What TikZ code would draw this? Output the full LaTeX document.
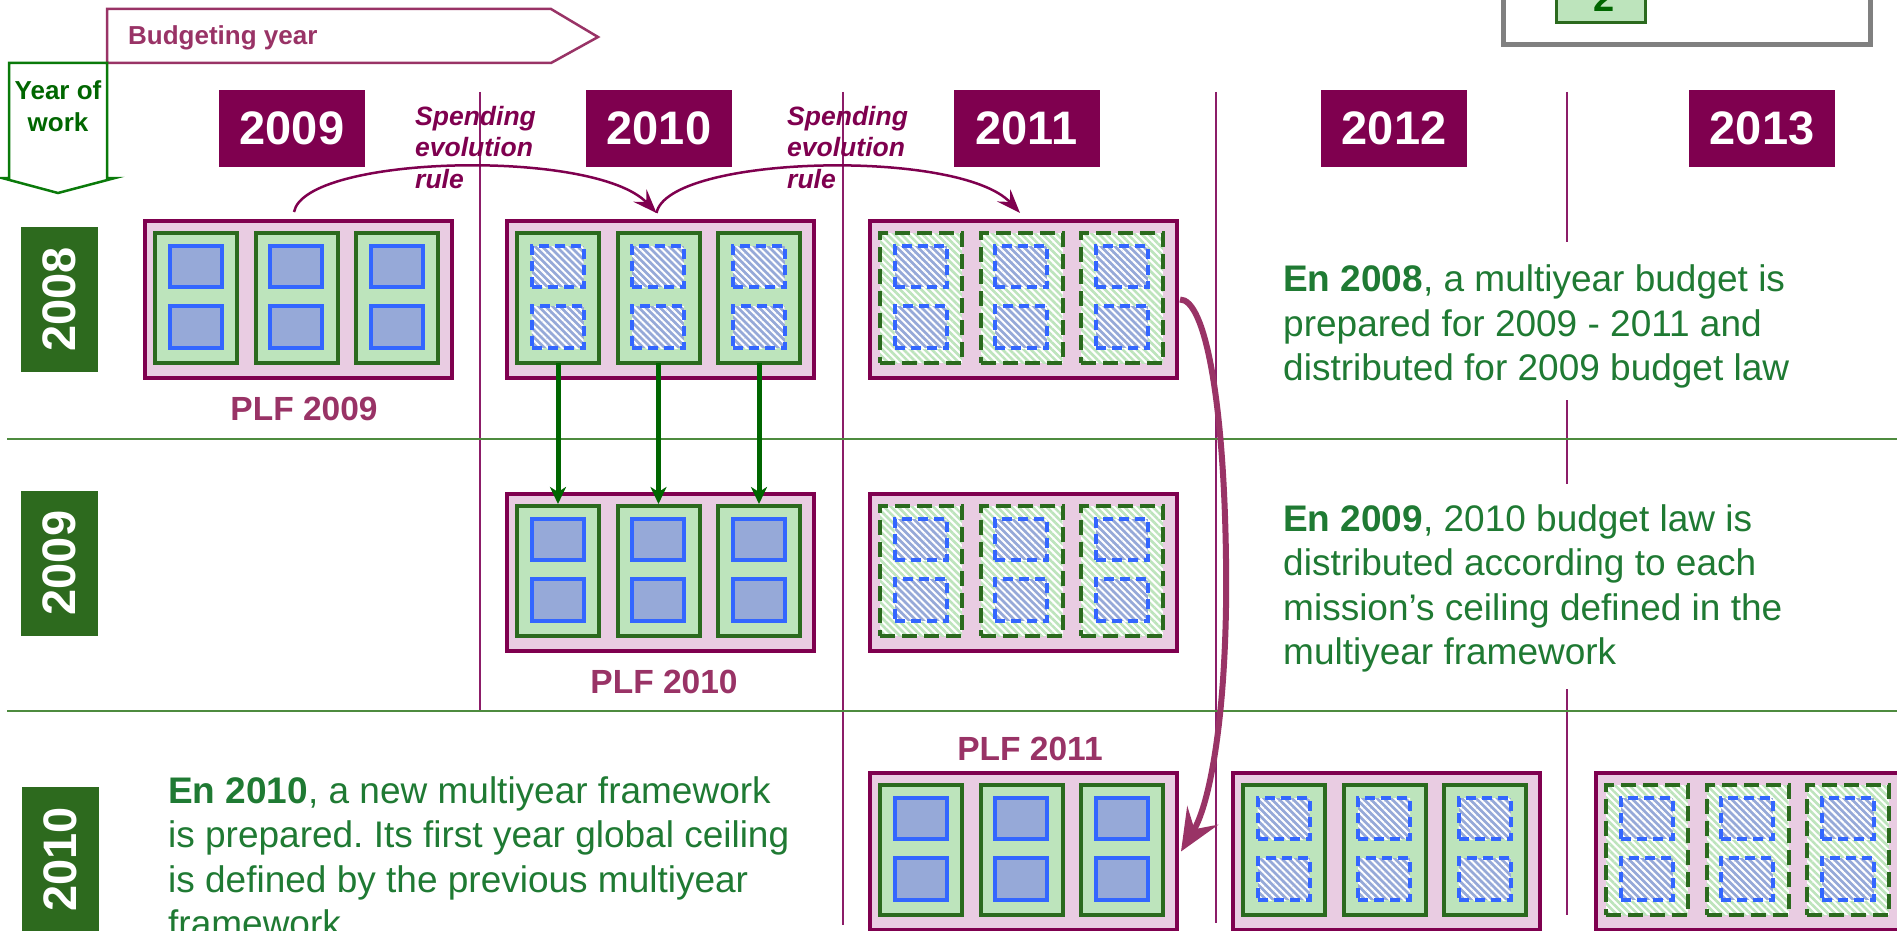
\documentclass[tikz,border=0pt]{standalone}
\usepackage{fontspec}
\setmainfont{Liberation Sans}
\usetikzlibrary{arrows.meta,patterns.meta}
\definecolor{plum}{HTML}{7F004F}
\definecolor{magtext}{HTML}{993366}
\definecolor{pinkbg}{HTML}{E9CCE2}
\definecolor{gdark}{HTML}{2B6A1E}
\definecolor{glight}{HTML}{BDE4BC}
\definecolor{bblue}{HTML}{3366FF}
\definecolor{bfill}{HTML}{96A9D8}
\definecolor{labgreen}{HTML}{2D6A1E}
\definecolor{txtgreen}{HTML}{1F7A33}
\definecolor{ywgreen}{HTML}{006600}
\definecolor{ywline}{HTML}{0A7A0A}
\definecolor{arrgreen}{HTML}{006600}
\definecolor{hlinec}{HTML}{4E8B3F}
\definecolor{vlinec}{HTML}{8C1D68}
\definecolor{leggray}{HTML}{808080}
\tikzset{
  outerbox/.style={draw=plum, fill=pinkbg, line width=4pt, minimum width=307pt, minimum height=157pt, inner sep=0pt, outer sep=0pt},
  gsolid/.style={draw=gdark, fill=glight, line width=4pt, minimum width=82pt, minimum height=130pt, inner sep=0pt, outer sep=0pt},
  ghatch/.style={draw=gdark, line width=4pt, dash pattern=on 15pt off 7pt, preaction={fill=white}, pattern={Lines[angle=-45,distance=5pt,line width=2.6pt]}, pattern color=glight, minimum width=82pt, minimum height=130pt, inner sep=0pt, outer sep=0pt},
  bsolid/.style={draw=bblue, fill=bfill, line width=4pt, minimum width=52pt, inner sep=0pt, outer sep=0pt},
  bhatch/.style={draw=bblue, line width=4pt, dash pattern=on 10pt off 6pt, preaction={fill=bfill}, pattern={Lines[angle=-45,distance=5pt,line width=2pt]}, pattern color=white, minimum width=52pt, inner sep=0pt, outer sep=0pt},
  yearhead/.style={fill=plum, text=white, font=\fontsize{47}{56}\selectfont\bfseries, minimum width=146pt, minimum height=77pt, inner sep=0pt},
  rowlab/.style={fill=labgreen, text=white, rotate=90, font=\fontsize{47}{56}\selectfont\bfseries, minimum width=145pt, minimum height=77pt, inner sep=0pt},
  spend/.style={font=\fontsize{26.5}{31.5}\selectfont\bfseries\itshape, text=plum, align=left, inner sep=0pt, anchor=north west},
  desc/.style={font=\fontsize{37}{44.5}\selectfont, text=txtgreen, align=left, inner sep=0pt, anchor=north west},
  plf/.style={font=\fontsize{33.5}{40}\selectfont\bfseries, text=magtext, anchor=base, inner sep=0pt},
  vline/.style={draw=vlinec, line width=2pt},
  hline/.style={draw=hlinec, line width=2.2pt},
  garrow/.style={draw=arrgreen, line width=5pt, -{Stealth[length=17pt,width=16pt,inset=5pt]}, shorten >=2pt},
  sparrow/.style={draw=plum, line width=2.5pt, -{Stealth[length=24pt,width=18pt,inset=9pt]}},
  bigarrow/.style={draw=magtext, line width=6pt, -{Stealth[length=42pt,width=36pt,inset=16pt]}},
}
\newcommand\mkpanel[5]{%
  \node[outerbox] (#1) at ({#2+155.5},{#3+80.5}) {};
  \foreach \i in {1,2,3}{%
    \node[#4] (#1-g\i) at ({#2+53+100.5*(\i-1)},{#3+79}) {};
    \node[#5, minimum height=41pt] (#1-b\i-a) at ({#2+52.5+100.5*(\i-1)},{#3+47.5}) {};
    \node[#5, minimum height=42pt] (#1-b\i-b) at ({#2+52.5+100.5*(\i-1)},{#3+108}) {};
  }%
}
\frenchspacing
\begin{document}
\begin{tikzpicture}[x=1pt,y=-1pt]
\clip (0,0) rectangle (1897,931);
\fill[white] (0,0) rectangle (1897,931);

% legend frame (top right, cut off)
\draw[draw=leggray, line width=5pt, fill=white] (1503.5,-30) rectangle (1870,44.5);
\node[draw=gdark, fill=glight, line width=3pt, minimum width=89pt, minimum height=60pt, anchor=south, inner sep=0pt] (legbox) at (1600.5,24.5) {};
\node[anchor=base, font=\fontsize{38}{44}\selectfont\bfseries, text=ywgreen, inner sep=0pt] (legtext) at (1604,12) {2};

% grid lines
\draw[vline] (480,92) -- (480,711);
\draw[vline] (843,92) -- (843,925);
\draw[vline] (1216,92) -- (1216,923);
\draw[vline] (1567,92) -- (1567,242);
\draw[vline] (1567,400) -- (1567,484);
\draw[vline] (1567,689) -- (1567,915);
\draw[hline] (7,439) -- (1897,439);
\draw[hline] (7,711) -- (1897,711);

% axis arrows
\draw[draw=magtext, line width=2.5pt, line join=miter] (107,9) -- (551,9) -- (598,37) -- (551,63) -- (107,63) -- cycle;
\node[anchor=base west, font=\fontsize{26}{31}\selectfont\bfseries, text=magtext, inner sep=0pt] (budget) at (128,45) {Budgeting year};
\draw[draw=ywline, line width=2.5pt, line join=miter] (9,63) -- (107,63) -- (107,178) -- (115,178) -- (58,193) -- (2,178) -- (9,178) -- cycle;
\node[align=center, font=\fontsize{26}{32}\selectfont\bfseries, text=ywgreen, inner sep=0pt] (yearwork) at (58,106) {Year of\\work};

% year headers
\node[yearhead] (h2009) at (292,128.5) {2009};
\node[yearhead] (h2010) at (659,128.5) {2010};
\node[yearhead] (h2011) at (1026.5,128.5) {2011};
\node[yearhead] (h2012) at (1394,128.5) {2012};
\node[yearhead] (h2013) at (1762,128.5) {2013};

% row labels
\node[rowlab] (r2008) at (59.5,299.5) {2008};
\node[rowlab] (r2009) at (59.5,563) {2009};
\node[rowlab] (r2010) at (60,859.5) {2010};

% panels
\mkpanel{pA}{143}{219}{gsolid}{bsolid}
\mkpanel{pB}{505}{219}{gsolid}{bhatch}
\mkpanel{pC}{868}{219}{ghatch}{bhatch}
\mkpanel{pD}{505}{492}{gsolid}{bsolid}
\mkpanel{pE}{868}{492}{ghatch}{bhatch}
\mkpanel{pF}{868}{771}{gsolid}{bsolid}
\mkpanel{pG}{1231}{771}{gsolid}{bhatch}
\mkpanel{pH}{1594}{771}{ghatch}{bhatch}

% PLF labels
\node[plf] (l2009) at (304,420) {PLF 2009};
\node[plf] (l2010) at (664,693) {PLF 2010};
\node[plf] (l2011) at (1030,760) {PLF 2011};

% spending evolution rule
\node[spend] (sp1) at (415,106) {Spending\\evolution\\rule};
\node[spend] (sp2) at (787,106) {Spending\\evolution\\rule};
\draw[sparrow] ([xshift=-4.5pt,yshift=9pt]pA.north) .. controls (305,155) and (595,148) .. ([xshift=-4pt,yshift=8pt]pB.north);
\draw[sparrow] ([xshift=-4pt,yshift=8pt]pB.north) .. controls (668,155) and (960,148) .. ([xshift=-3.5pt,yshift=8pt]pC.north);

% green arrows
\draw[garrow] (pB-g1.south) -- (pD-g1.north);
\draw[garrow] (pB-g2.south) -- (pD-g2.north);
\draw[garrow] (pB-g3.south) -- (pD-g3.north);

% big arrow
\coordinate (bigmid) at (1226,560);
\draw[bigarrow] ([xshift=3pt]pC.east) .. controls (1205,299) and (1224,400) .. (bigmid) .. controls (1228,700) and (1212,800) .. ([xshift=4pt]pF.east);

% descriptions
\node[desc] (t2008) at (1283,264.5) {\textbf{En 2008}, a multiyear budget is\\prepared for 2009 - 2011 and\\distributed for 2009 budget law};
\node[desc] (t2009) at (1283,504) {\textbf{En 2009}, 2010 budget law is\\distributed according to each\\mission’s ceiling defined in the\\multiyear framework};
\node[desc] (t2010) at (168,776) {\textbf{En 2010}, a new multiyear framework\\is prepared. Its first year global ceiling\\is defined by the previous multiyear\\framework};
\end{tikzpicture}
\end{document}
